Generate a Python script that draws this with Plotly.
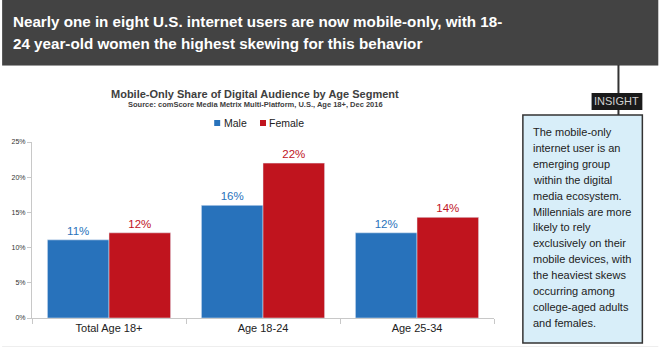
import plotly.graph_objects as go

categories = ["Total Age 18+", "Age 18-24", "Age 25-34"]
male = [11.1, 16.0, 12.1]
female = [12.1, 22.0, 14.3]
y_ticks = [0, 5, 10, 15, 20, 25]
y_tick_labels = ["0%", "5%", "10%", "15%", "20%", "25%"]
header_lines = ["Nearly one in eight U.S. internet users are now mobile-only, with 18-",
                "24 year-old women the highest skewing for this behavior"]
insight_lines = ["The mobile-only", "internet user is an", "emerging group", "within the digital",
                 "media ecosystem.", "Millennials are more", "likely to rely", "exclusively on their",
                 "mobile devices, with", "the heaviest skews", "occurring among",
                 "college-aged adults", "and females."]

W, H = 659, 348
L, R, T, B = 30, 165, 142, 30
PW, PH = W - L - R, H - T - B

def px(x):
    return (x - L) / PW

def py(y):
    return (H - B - y) / PH

FONT = "Liberation Sans, Arial, sans-serif"
BLUE = "#2872bb"
RED = "#c0141e"

fig = go.Figure()
fig.add_trace(go.Bar(x=categories, y=male, name="Male", marker_color=BLUE,
                     texttemplate="%{y:.0f}%", textposition="outside",
                     textfont=dict(color=BLUE, size=11.5, family=FONT), cliponaxis=False))
fig.add_trace(go.Bar(x=categories, y=female, name="Female", marker_color=RED,
                     texttemplate="%{y:.0f}%", textposition="outside",
                     textfont=dict(color=RED, size=11.5, family=FONT), cliponaxis=False))

shapes = [
    dict(type="rect", xref="paper", yref="paper", x0=px(0), x1=px(W), y0=py(0), y1=py(65),
         fillcolor="#434343", line=dict(width=0), layer="below"),
    dict(type="line", xref="paper", yref="paper", x0=px(0), x1=px(W), y0=py(65.5), y1=py(65.5),
         line=dict(color="#9a9a9a", width=1)),
    dict(type="line", xref="paper", yref="paper", x0=px(0), x1=px(W), y0=py(346.5), y1=py(346.5),
         line=dict(color="#eeeeee", width=1)),
    dict(type="line", xref="paper", yref="paper", x0=px(619), x1=px(619), y0=py(65), y1=py(115),
         line=dict(color="#333333", width=2)),
    dict(type="rect", xref="paper", yref="paper", x0=px(592), x1=px(643), y0=py(93), y1=py(110),
         fillcolor="#1a1a1a", line=dict(width=0)),
    dict(type="rect", xref="paper", yref="paper", x0=px(523), x1=px(643), y0=py(115), y1=py(343),
         fillcolor="#d8eef9", line=dict(color="#333333", width=1.5)),
    # legend swatches
    dict(type="rect", xref="paper", yref="paper", x0=px(213), x1=px(219), y0=py(120), y1=py(126),
         fillcolor=BLUE, line=dict(width=0)),
    dict(type="rect", xref="paper", yref="paper", x0=px(259), x1=px(265), y0=py(120), y1=py(126),
         fillcolor=RED, line=dict(width=0)),
]

annotations = []
for i, line in enumerate(header_lines):
    annotations.append(dict(xref="paper", yref="paper", x=px(9), y=py(22 + 21.5 * i),
                            xanchor="left", yanchor="middle", text="<b>" + line + "</b>",
                            showarrow=False, font=dict(color="white", size=15.2, family=FONT)))
annotations += [
    dict(xref="paper", yref="paper", x=px(254), y=py(94), xanchor="center", yanchor="middle",
         text="<b>Mobile-Only Share of Digital Audience by Age Segment</b>",
         showarrow=False, font=dict(color="#404040", size=11, family=FONT)),
    dict(xref="paper", yref="paper", x=px(254), y=py(104), xanchor="center", yanchor="middle",
         text="<b>Source: comScore Media Metrix Multi-Platform, U.S., Age 18+, Dec 2016</b>",
         showarrow=False, font=dict(color="#404040", size=7.5, family=FONT)),
    dict(xref="paper", yref="paper", x=px(617.5), y=py(101.5), xanchor="center", yanchor="middle",
         text="INSIGHT", showarrow=False, font=dict(color="#d0d0d0", size=11, family=FONT)),
    dict(xref="paper", yref="paper", x=px(221), y=py(123), xanchor="left", yanchor="middle",
         text=fig.data[0].name, showarrow=False, font=dict(color="#222222", size=10.5, family=FONT)),
    dict(xref="paper", yref="paper", x=px(266), y=py(123), xanchor="left", yanchor="middle",
         text=fig.data[1].name, showarrow=False, font=dict(color="#222222", size=10.5, family=FONT)),
]
for i, line in enumerate(insight_lines):
    annotations.append(dict(xref="paper", yref="paper", x=px(531), y=py(132 + 15.9 * i),
                            xanchor="left", yanchor="middle", text=line, showarrow=False,
                            font=dict(color="#222222", size=11, family=FONT)))

fig.update_layout(
    width=W, height=H, margin=dict(l=L, r=R, t=T, b=B),
    paper_bgcolor="white", plot_bgcolor="white",
    barmode="group", bargap=0.2, bargroupgap=0,
    font=dict(family=FONT),
    showlegend=False,
    shapes=shapes, annotations=annotations,
    xaxis=dict(showline=True, linecolor="#c8c8c8", linewidth=1, ticks="outside",
               tickson="boundaries", ticklen=5, tickcolor="#c8c8c8",
               tickfont=dict(size=11, color="#222222", family=FONT), showgrid=False),
    yaxis=dict(range=[0, 25], tickvals=y_ticks, ticktext=y_tick_labels, showline=True,
               linecolor="#c8c8c8", linewidth=1, ticks="outside", ticklen=4,
               tickcolor="#c8c8c8", tickfont=dict(size=7, color="#333333", family=FONT),
               showgrid=False, zeroline=False),
)

fig.write_html("out.html")
